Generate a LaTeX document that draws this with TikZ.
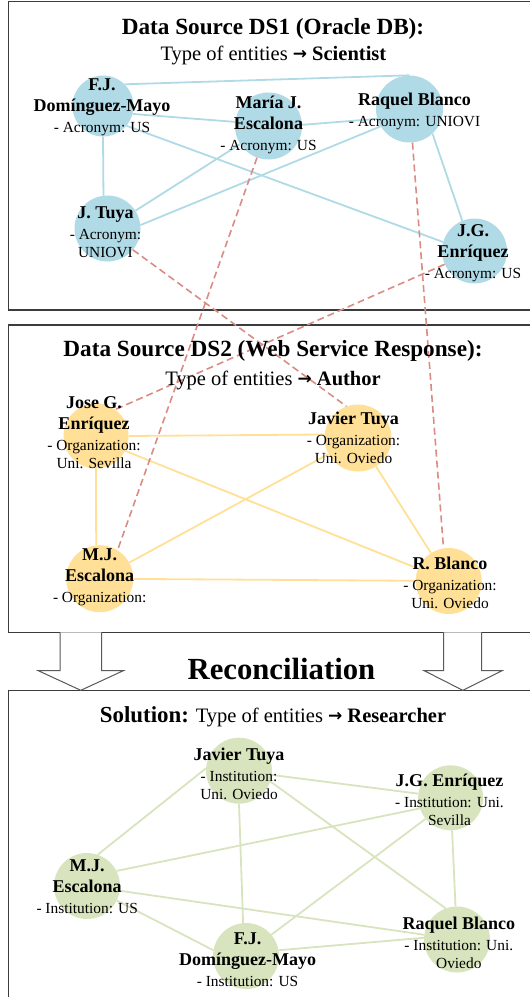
\documentclass[tikz,border=0pt]{standalone}
\usepackage{fontspec}
\setmainfont{Liberation Serif}
\newfontfamily\arrowfont{DejaVu Sans}
\usepackage{tikz}

\definecolor{scibl}{RGB}{176,218,230}
\definecolor{autyl}{RGB}{255,224,150}
\definecolor{resgr}{RGB}{215,228,189}
\definecolor{linkrd}{RGB}{218,140,132}
\definecolor{framegr}{RGB}{60,60,60}

\newcommand{\rname}[1]{{\fontsize{18}{21}\selectfont\bfseries #1}}
\newcommand{\typeto}{\raisebox{1pt}{\arrowfont\bfseries\fontsize{17}{18}\selectfont →}}

\begin{document}
\begin{tikzpicture}[x=1pt, y=-1pt,
    sci/.style={circle, fill=scibl, minimum size=66pt, inner sep=0pt},
    aut/.style={circle, fill=autyl, minimum size=66pt, inner sep=0pt},
    res/.style={circle, fill=resgr, minimum size=66pt, inner sep=0pt},
    txt/.style={align=center, inner sep=0pt, font=\fontsize{15.4}{18}\selectfont},
    sciedge/.style={scibl, line width=1.8pt},
    autedge/.style={autyl, line width=1.8pt},
    resedge/.style={resgr, line width=1.8pt},
    linkedge/.style={linkrd, line width=1.6pt, dash pattern=on 7pt off 4pt},
    frame/.style={framegr, line width=1.3pt},
    blockarrow/.style={draw=black!65, fill=white, line width=1pt}]
    \useasboundingbox (0, 0) rectangle (530, 997);

    % frames and arrows
    \draw[frame] (8.5, 1.7) rectangle (545, 310);
    \draw[frame] (8.5, 325) rectangle (545, 632.3);
    \draw[frame] (8.5, 690.3) rectangle (545, 1010);
    \draw[blockarrow] (60, 632.3) -- (60, 670.7) -- (38.3, 670.7) -- (80.8, 690.3) -- (123.3, 670.7) -- (101.7, 670.7) -- (101.7, 632.3);
    \draw[blockarrow] (443.5, 632.3) -- (443.5, 670.7) -- (424.2, 670.7) -- (462.8, 690.3) -- (502, 670.7) -- (481.7, 670.7) -- (481.7, 632.3);

    % circles
    \node[sci, minimum size=61pt] at (103, 106) (fj) {};
    \node[sci, minimum size=67pt] at (268.5, 126) (mj) {};
    \node[sci, minimum size=67pt] at (409.5, 109) (rb) {};
    \node[sci] at (107.5, 228.5) (jt) {};
    \node[sci, minimum size=65pt] at (474.5, 251) (jge) {};

    \node[aut, minimum size=65pt] at (96, 436) (jose) {};
    \node[aut, minimum size=67pt] at (358, 438) (jav) {};
    \node[aut, minimum size=67pt] at (99.7, 578.7) (mje) {};
    \node[aut] at (448.7, 581) (rbl) {};

    \node[res] at (239, 770.7) (sjt) {};
    \node[res, minimum size=65pt] at (450.6, 797.8) (sjge) {};
    \node[res] at (87, 886) (smj) {};
    \node[res] at (246, 956) (sfj) {};
    \node[res] at (457, 939.5) (srb) {};

    % DS1
    \draw[sciedge] (fj.45) edge (rb.90);
    \draw[sciedge] (fj.-15) edge (mj.173);
    \draw[sciedge] (mj.2) edge (rb.197);
    \draw[sciedge] (fj.-90) edge (jt.97);
    \draw[sciedge] (fj.-40) edge (jge.164);
    \draw[sciedge] (jt) edge (mj);
    \draw[sciedge] (jt.6) edge (rb.211);
    \draw[sciedge] (rb.-47) edge (jge.112);

    % DS2
    \draw[autedge] (jose.0) edge (jav.174);
    \draw[autedge] (jose.-90) edge (mje.96);
    \draw[autedge] (jose.-27) edge (rbl.158);
    \draw[autedge] (jav) edge (mje);
    \draw[autedge] (jav) edge (rbl);
    \draw[autedge] (mje) edge (rbl);

    % same entity in both sources
    \draw[linkedge] (jt.-40) edge (jav.110);
    \draw[linkedge] (mj.-110) edge (mje.58);
    \draw[linkedge] (rb.-85) edge (rbl.99);
    \draw[linkedge] (jge.204) edge (jose.54);

    % solution
    \draw[resedge] (sjt) edge (sjge);
    \draw[resedge] (sjt.176) edge (smj.71);
    \draw[resedge] (sjt.-90) edge (sfj.95);
    \draw[resedge] (sjt.-19) edge (srb.110);
    \draw[resedge] (sjge.199) edge (smj.27);
    \draw[resedge] (sjge.220) edge (sfj.40);
    \draw[resedge] (sjge) edge (srb);
    \draw[resedge] (smj) edge (srb);
    \draw[resedge] (smj.-26) edge (sfj.170);
    \draw[resedge] (sfj.10) edge (srb.177);

    % titles
    \node[font=\fontsize{23.2}{28}\selectfont\bfseries] at (273, 29) (title1) {Data Source DS1 (Oracle DB):};
    \node[font=\fontsize{20.5}{24}\selectfont] at (273.4, 55) (sub1) {Type of entities \typeto{} \textbf{Scientist}};
    \node[font=\fontsize{23.2}{28}\selectfont\bfseries] at (273, 351) (title2) {Data Source DS2 (Web Service Response):};
    \node[font=\fontsize{20.5}{24}\selectfont] at (273, 380) (sub2) {Type of entities \typeto{} \textbf{Author}};
    \node[font=\fontsize{30.7}{36}\selectfont\bfseries] at (281.4, 668.5) (recon) {Reconciliation};
    \node[font=\fontsize{20.5}{24}\selectfont] at (273, 717) (title3) {{\fontsize{22.9}{27}\selectfont\bfseries Solution:} Type of entities \typeto{} \textbf{Researcher}};

    % labels
    \node[txt] at (102, 107) (fj-t) {\rname{F.J.}\\[3pt] \rname{Domínguez-Mayo}\\[3pt] - Acronym: US};
    \node[txt] at (268.5, 125) (mj-t) {\rname{María J.}\\[3pt] \rname{Escalona}\\[3pt] - Acronym: US};
    \node[txt] at (414.5, 111) (rb-t) {\rname{Raquel Blanco}\\[3pt] - Acronym: UNIOVI};
    \node[txt] at (105.5, 232.5) (jt-t) {\rname{J. Tuya}\\[3pt] - Acronym:\\ UNIOVI};
    \node[txt] at (473, 253.5) (jge-t) {\rname{J.G.}\\[3pt] \rname{Enríquez}\\[3pt] - Acronym: US};

    \node[txt] at (94, 433) (jose-t) {\rname{Jose G.}\\[3pt] \rname{Enríquez}\\[3pt] - Organization:\\ Uni. Sevilla};
    \node[txt] at (353.5, 438) (jav-t) {\rname{Javier Tuya}\\[3pt] - Organization:\\ Uni. Oviedo};
    \node[txt] at (99.7, 577.5) (mje-t) {\rname{M.J.}\\[3pt] \rname{Escalona}\\[3pt] - Organization:};
    \node[txt] at (450, 582.8) (rbl-t) {\rname{R. Blanco}\\[3pt] - Organization:\\ Uni. Oviedo};

    \node[txt] at (239, 773.5) (sjt-t) {\rname{Javier Tuya}\\[3pt] - Institution:\\ Uni. Oviedo};
    \node[txt] at (449.5, 800) (sjge-t) {\rname{J.G. Enríquez}\\[3pt] - Institution: Uni.\\ Sevilla};
    \node[txt] at (87.2, 886.5) (smj-t) {\rname{M.J.}\\[3pt] \rname{Escalona}\\[3pt] - Institution: US};
    \node[txt] at (247.6, 960) (sfj-t) {\rname{F.J.}\\[3pt] \rname{Domínguez-Mayo}\\[3pt] - Institution: US};
    \node[txt] at (458.8, 943) (srb-t) {\rname{Raquel Blanco}\\[3pt] - Institution: Uni.\\ Oviedo};
\end{tikzpicture}
\end{document}
